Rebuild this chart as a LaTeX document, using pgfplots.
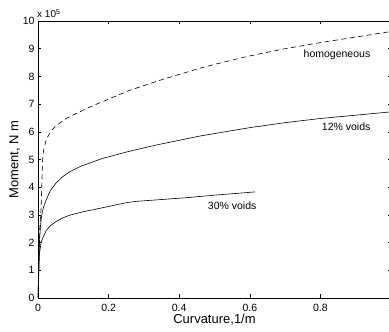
\documentclass[border=0pt]{standalone}
\usepackage{pgfplots}
\pgfplotsset{compat=1.18}
\usepackage{fontspec}
\setmainfont{Liberation Sans}
\begin{document}
\begin{tikzpicture}[x=1pt,y=1pt]
\useasboundingbox (0,0) rectangle (389,332);
\begin{axis}[
  at={(38pt,34pt)}, anchor=south west,
  scale only axis, width=353pt, height=277pt,
  xmin=0, xmax=1, ymin=0, ymax=10,
  xtick={0,0.2,0.4,0.6,0.8,1}, ytick={0,1,...,10},
  xticklabels={0,0.2,0.4,0.6,0.8,1},
  tick align=inside, major tick length=3.5pt,
  tick style={black, line width=0.5pt},
  axis line style={black, line width=0.7pt},
  /pgf/number format/assume math mode=true,
  tick label style={font=\fontsize{10.5}{12}\selectfont},
  xticklabel style={yshift=-3pt},
  xlabel={Curvature,1/m}, ylabel={Moment, N m},
  label style={font=\fontsize{13}{15}\selectfont},
  xlabel style={at={(rel axis cs:0.5,0)}, anchor=base, yshift=-26pt},
  ylabel style={yshift=-4pt},
  clip mode=individual,
]
\addplot[black, line width=0.6pt, dash pattern=on 5pt off 3.5pt] coordinates {
(0,0) (0.005,2.5) (0.009,3.3) (0.011,4.2) (0.013,5.0) (0.016,5.35) (0.023,5.7)
(0.035,6.0) (0.051,6.22) (0.08,6.48) (0.108,6.66) (0.136,6.83) (0.17,7.02) (0.2,7.18)
(0.26,7.5) (0.35,7.88) (0.46,8.3) (0.53,8.53) (0.6,8.74) (0.7,9.0) (0.8,9.22) (0.9,9.42) (1.0,9.62)
};
\addplot[black, line width=0.6pt] coordinates {
(0,0) (0.004,2.0) (0.007,2.6) (0.01,2.95) (0.015,3.25) (0.023,3.54) (0.035,3.88)
(0.051,4.15) (0.07,4.38) (0.089,4.55) (0.12,4.75) (0.183,5.04) (0.26,5.3)
(0.334,5.52) (0.46,5.85) (0.6,6.15) (0.7,6.33) (0.8,6.48) (0.9,6.6) (1.0,6.72)
};
\addplot[black, line width=0.6pt] coordinates {
(0,0) (0.004,1.6) (0.0085,1.98) (0.013,2.15) (0.023,2.43) (0.035,2.61) (0.051,2.76)
(0.07,2.89) (0.09,2.99) (0.13,3.12) (0.18,3.25) (0.22,3.36) (0.25,3.44) (0.28,3.49)
(0.334,3.54) (0.42,3.62) (0.507,3.72) (0.615,3.83)
};
\node[font=\fontsize{10.5}{12}\selectfont] at (axis cs:0.847,8.77) {homogeneous};
\node[font=\fontsize{10.5}{12}\selectfont] at (axis cs:0.873,6.2) {12\% voids};
\node[font=\fontsize{10.5}{12}\selectfont] at (axis cs:0.55,3.32) {30\% voids};
\node[anchor=base west, inner sep=0pt, font=\fontsize{10}{11}\selectfont] at (rel axis cs:0,1) [yshift=3pt, xshift=-1pt] {x 10\textsuperscript{5}};
\end{axis}
\end{tikzpicture}
\end{document}
